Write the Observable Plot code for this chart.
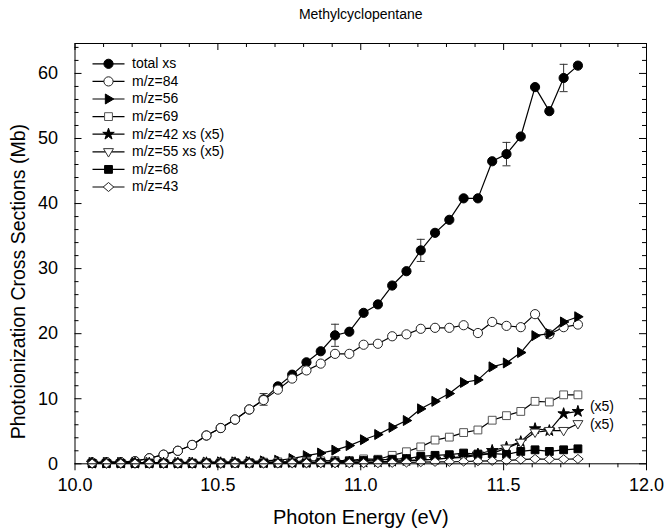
<!DOCTYPE html>
<html><head><meta charset="utf-8">
<script src="https://cdn.jsdelivr.net/npm/d3@7"></script>
<script src="https://cdn.jsdelivr.net/npm/@observablehq/plot@0.6"></script>
<style>
body{margin:0;background:#fff;}
#chart svg{font-family:Arial,"Liberation Sans",sans-serif;}
</style>
</head><body><div id="chart"></div>
<script>
// ---------- data ----------
const energy = [10.06,10.11,10.16,10.21,10.26,10.31,10.36,10.41,10.46,10.51,10.56,10.61,10.66,10.71,10.76,10.81,10.86,10.91,10.96,11.01,11.06,11.11,11.16,11.21,11.26,11.31,11.36,11.41,11.46,11.51,11.56,11.61,11.66,11.71,11.76];
const totalXs = [0.2,0.25,0.25,0.4,0.85,1.4,2.0,2.9,4.35,5.5,6.8,8.35,9.9,11.9,13.7,15.6,17.3,19.75,20.3,23.2,24.5,27.4,29.6,32.8,35.5,37.5,40.8,40.8,46.5,47.6,50.3,57.9,54.2,59.3,61.2];
const mz84 = [0.2,0.25,0.25,0.4,0.85,1.4,2.0,2.9,4.35,5.5,6.8,8.35,9.8,11.4,13.1,14.35,15.4,16.9,16.9,18.3,18.45,19.6,19.9,20.75,20.9,20.9,21.3,20.1,21.8,21.2,21.0,23.0,19.9,21.0,21.4];
const mz56 = [0.2,0.2,0.2,0.2,0.2,0.2,0.2,0.25,0.25,0.3,0.3,0.35,0.45,0.55,0.8,1.25,1.65,2.1,2.8,3.7,4.5,5.6,6.65,8.45,9.6,10.8,12.5,12.9,14.9,15.5,17.1,19.7,20.0,21.8,22.6];
const mz69 = [0.1,0.1,0.1,0.1,0.15,0.15,0.15,0.15,0.2,0.2,0.2,0.2,0.25,0.3,0.35,0.4,0.45,0.5,0.5,0.75,0.7,1.3,1.85,2.6,3.65,4.1,4.8,5.2,6.7,7.4,8.05,9.6,9.5,10.6,10.6];
const mz42x5 = [0.1,0.1,0.1,0.1,0.1,0.1,0.1,0.1,0.15,0.15,0.15,0.15,0.15,0.2,0.2,0.2,0.2,0.2,0.25,0.25,0.3,0.4,0.5,0.6,0.7,0.9,1.1,1.5,2.05,2.55,3.4,5.4,5.1,7.7,8.05];
const mz55x5 = [0.1,0.1,0.1,0.1,0.1,0.1,0.1,0.1,0.1,0.1,0.15,0.15,0.15,0.15,0.15,0.15,0.2,0.2,0.2,0.2,0.25,0.35,0.45,0.55,0.7,0.85,1.0,1.3,1.6,2.4,3.3,4.85,5.1,5.1,6.15];
const mz68 = [0.05,0.05,0.05,0.05,0.05,0.05,0.05,0.05,0.1,0.1,0.1,0.1,0.1,0.1,0.15,0.15,0.2,0.3,0.4,0.5,0.6,0.7,0.8,1.15,1.3,1.4,1.65,1.5,1.55,1.45,1.9,2.15,1.9,2.15,2.3];
const mz43 = [0.05,0.05,0.05,0.05,0.05,0.05,0.05,0.05,0.05,0.05,0.05,0.05,0.05,0.05,0.1,0.1,0.1,0.1,0.1,0.1,0.1,0.15,0.2,0.25,0.3,0.3,0.35,0.4,0.45,0.5,0.65,0.75,0.7,0.7,0.75];

const errEnergy = [10.66,10.91,11.21,11.51,11.71];
const errValue  = [9.9,19.75,32.8,47.6,59.3];
const errDelta  = [0.9,1.7,1.7,1.8,2.1];

const seriesNames = ["total xs","m/z=84","m/z=56","m/z=69","m/z=42 xs (x5)","m/z=55 xs (x5)","m/z=68","m/z=43"];
const seriesValues = [totalXs, mz84, mz56, mz69, mz42x5, mz55x5, mz68, mz43];
const x5Label = "(x5)";

const xMajor = [10.0,10.5,11.0,11.5,12.0];
const xMinor = [10.1,10.2,10.3,10.4,10.6,10.7,10.8,10.9,11.1,11.2,11.3,11.4,11.6,11.7,11.8,11.9];
const yMajor = [0,10,20,30,40,50,60];
const yMinor = [2,4,6,8,12,14,16,18,22,24,26,28,32,34,36,38,42,44,46,48,52,54,56,58,62,64];

const titleText = "Methylcyclopentane";
const xLabel = "Photon Energy (eV)";
const yLabel = "Photoionization Cross Sections (Mb)";

// ---------- symbols ----------
const triRight = {draw(ctx, size){const r=Math.sqrt(size/Math.PI)*1.25; ctx.moveTo(r,0); ctx.lineTo(-r*0.6,r*0.95); ctx.lineTo(-r*0.6,-r*0.95); ctx.closePath();}};
const triDown = {draw(ctx, size){const r=Math.sqrt(size/Math.PI)*1.25; ctx.moveTo(0,r); ctx.lineTo(r*0.95,-r*0.6); ctx.lineTo(-r*0.95,-r*0.6); ctx.closePath();}};
const diamond = {draw(ctx, size){const r=Math.sqrt(size/Math.PI)*1.2; ctx.moveTo(0,-r*0.85); ctx.lineTo(r,0); ctx.lineTo(0,r*0.85); ctx.lineTo(-r,0); ctx.closePath();}};
const square = {draw(ctx, size){const r=Math.sqrt(size/Math.PI)*0.85; ctx.moveTo(-r,-r); ctx.lineTo(r,-r); ctx.lineTo(r,r); ctx.lineTo(-r,r); ctx.closePath();}};
const legendLine = {draw(ctx){ctx.moveTo(-16,0); ctx.lineTo(16,0);}};
const capSym = {draw(ctx){ctx.moveTo(-4,0); ctx.lineTo(4,0);}};

const styles = [
  {symbol:"circle", fill:"black", stroke:"black", r:4.6},
  {symbol:"circle", fill:"white", stroke:"#222", r:4.6},
  {symbol:triRight, fill:"black", stroke:"black", r:4.2},
  {symbol:square, fill:"white", stroke:"#555", r:4.6},
  {symbol:"star", fill:"black", stroke:"black", r:3.6},
  {symbol:triDown, fill:"white", stroke:"#333", r:4.2},
  {symbol:square, fill:"black", stroke:"black", r:4.6},
  {symbol:diamond, fill:"white", stroke:"#222", r:4.4}
];

const W = 665, H = 528;
const mL = 74.5, mR = 19, mT = 43, mB = 64.7;
const innerW = W - mL - mR, innerH = H - mT - mB;

const rows = seriesNames.map((name, i) => energy.map((e, j) => ({name, e, v: seriesValues[i][j]})));
const errRows = errEnergy.map((e, i) => ({e, lo: errValue[i] - errDelta[i], hi: errValue[i] + errDelta[i]}));

const marks = [];
// error bars
marks.push(Plot.ruleX(errRows, {x:"e", y1:"lo", y2:"hi", stroke:"#333", strokeWidth:1}));
marks.push(Plot.dot(errRows, {x:"e", y:"lo", symbol:capSym, stroke:"#333", strokeWidth:1}));
marks.push(Plot.dot(errRows, {x:"e", y:"hi", symbol:capSym, stroke:"#333", strokeWidth:1}));
// series
rows.forEach((data, i) => {
  const s = styles[i];
  marks.push(Plot.line(data, {x:"e", y:"v", stroke:"black", strokeWidth:1.2}));
  marks.push(Plot.dot(data, {x:"e", y:"v", symbol:s.symbol, fill:s.fill, stroke:s.stroke, strokeWidth:1, r:s.r}));
});
// (x5) annotations
const lastIdx = energy.length - 1;
marks.push(Plot.text([{e: energy[lastIdx], v: mz42x5[lastIdx]}], {x:"e", y:"v", text: () => x5Label, dx:12, dy:-5, textAnchor:"start", fontSize:14}));
marks.push(Plot.text([{e: energy[lastIdx], v: mz55x5[lastIdx]}], {x:"e", y:"v", text: () => x5Label, dx:12, dy:1, textAnchor:"start", fontSize:14}));
// legend
seriesNames.forEach((name, i) => {
  const s = styles[i];
  const dy = 20.3 + i * 17.6;
  marks.push(Plot.dot([name], {frameAnchor:"top-left", dx:33.5, dy, symbol:legendLine, stroke:"black", strokeWidth:1.2}));
  marks.push(Plot.dot([name], {frameAnchor:"top-left", dx:33.5, dy, symbol:s.symbol, fill:s.fill, stroke:s.stroke, strokeWidth:1, r:s.r}));
  marks.push(Plot.text([name], {frameAnchor:"top-left", dx:57, dy, text:d=>d, textAnchor:"start", lineAnchor:"middle", fontSize:14}));
});
// frame & axes
marks.push(Plot.frame({stroke:"black", strokeWidth:1}));
marks.push(Plot.axisX({ticks:xMajor, tickSize:7, text:null, label:null}));
marks.push(Plot.axisX({ticks:xMinor, tickSize:4, text:null, label:null}));
marks.push(Plot.tickX(xMajor, {x:d=>d, insetBottom: innerH - 7, stroke:"black"}));
marks.push(Plot.tickX(xMinor, {x:d=>d, insetBottom: innerH - 4, stroke:"black"}));
marks.push(Plot.tickY(yMajor, {y:d=>d, insetRight: innerW - 7, stroke:"black"}));
marks.push(Plot.tickY(yMinor, {y:d=>d, insetRight: innerW - 4, stroke:"black"}));
marks.push(Plot.tickY(yMajor, {y:d=>d, insetLeft: innerW - 7, stroke:"black"}));
marks.push(Plot.tickY(yMinor, {y:d=>d, insetLeft: innerW - 4, stroke:"black"}));
marks.push(Plot.axisX({ticks:xMajor, tickSize:0, tickPadding:14, tickFormat:d=>d.toFixed(1), fontSize:18, label:null}));
marks.push(Plot.axisY({ticks:yMajor, tickSize:0, tickPadding:17, fontSize:18, label:null}));
// titles
marks.push(Plot.text([titleText], {frameAnchor:"top", dy:-29, lineAnchor:"middle", text:d=>d, fontSize:14}));
marks.push(Plot.text([xLabel], {frameAnchor:"bottom", dy:54, lineAnchor:"middle", text:d=>d, fontSize:20}));
marks.push(Plot.text([yLabel], {frameAnchor:"left", dx:-56, dy:28, rotate:-90, textAnchor:"middle", lineAnchor:"middle", text:d=>d, fontSize:19.5}));

const chart = Plot.plot({
  width: W, height: H,
  marginLeft: mL, marginRight: mR, marginTop: mT, marginBottom: mB,
  x: {domain:[10,12]},
  y: {domain:[0,64.6]},
  style: {fontFamily:"Arial, 'Liberation Sans', sans-serif", fontSize:"16px", color:"black", background:"white", overflow:"visible"},
  marks
});
document.getElementById("chart").appendChild(chart);
</script>
</body></html>
